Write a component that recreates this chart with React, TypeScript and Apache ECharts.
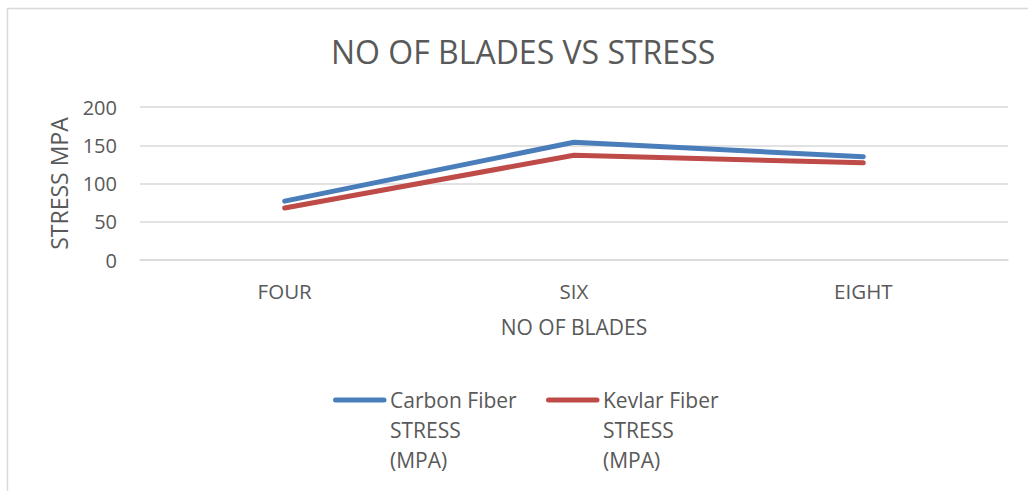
import React, { useEffect, useRef } from "react";
import * as echarts from "echarts";

const categories = ["FOUR", "SIX", "EIGHT"];
const carbonStress = [77, 154, 135];
const kevlarStress = [68, 137, 127];
const yTicks = [0, 50, 100, 150, 200];
const seriesNames = ["Carbon Fiber STRESS (MPA)", "Kevlar Fiber STRESS (MPA)"];
const legendLabels = ["Carbon Fiber\nSTRESS\n(MPA)", "Kevlar Fiber\nSTRESS\n(MPA)"];

const FONT = "'Open Sans', sans-serif";
const TXT = "#595959";
const GRID = "#d9d9d9";
const COLORS = ["#4a7ebb", "#be4b48"];
const LEGEND_X = [333, 546];
const LEGEND_Y = 400;

export default function App() {
  const ref = useRef<HTMLDivElement>(null);
  useEffect(() => {
    document.body.style.margin = "0";
    const chart = echarts.init(ref.current!, null, { renderer: "svg" });
    const legendGraphics: any[] = [];
    seriesNames.forEach((_, i) => {
      const x0 = LEGEND_X[i];
      legendGraphics.push({
        type: "line",
        shape: { x1: x0 + 2.5, y1: LEGEND_Y, x2: x0 + 51, y2: LEGEND_Y },
        style: { stroke: COLORS[i], lineWidth: 5, lineCap: "round" },
        silent: true,
      });
      legendGraphics.push({
        type: "text",
        x: x0 + 57,
        y: LEGEND_Y - 15,
        style: {
          text: legendLabels[i],
          fill: TXT,
          font: `21px ${FONT}`,
          lineHeight: 30,
          verticalAlign: "top",
          align: "left",
        },
        silent: true,
      });
    });
    chart.setOption({
      animation: false,
      textStyle: { fontFamily: FONT },
      title: {
        text: "NO OF BLADES VS STRESS",
        left: 326,
        top: 30,
        textStyle: { color: TXT, fontFamily: FONT, fontSize: 32, fontWeight: "normal" },
      },
      graphic: [
        {
          type: "rect",
          shape: { x: 7.5, y: 8.5, width: 1040, height: 520 },
          style: { fill: "none", stroke: GRID, lineWidth: 1.5 },
          silent: true,
        },
        ...legendGraphics,
      ],
      grid: { left: 140, right: 20, top: 107, bottom: 231 },
      xAxis: {
        type: "category",
        data: categories,
        boundaryGap: true,
        name: "NO OF BLADES",
        nameLocation: "middle",
        nameGap: 56,
        nameTextStyle: { color: TXT, fontFamily: FONT, fontSize: 21 },
        axisLine: { show: true, lineStyle: { color: GRID, width: 1.5 } },
        axisTick: { show: false },
        axisLabel: { color: TXT, fontFamily: FONT, fontSize: 20.5, margin: 20 },
      },
      yAxis: {
        type: "value",
        min: yTicks[0],
        max: yTicks[yTicks.length - 1],
        interval: 50,
        name: "STRESS MPA",
        nameLocation: "middle",
        nameGap: 70,
        nameTextStyle: { color: TXT, fontFamily: FONT, fontSize: 23 },
        axisLine: { show: false },
        axisTick: { show: false },
        axisLabel: { color: TXT, fontFamily: FONT, fontSize: 20, margin: 23 },
        splitLine: { lineStyle: { color: GRID, width: 1.5 } },
      },
      series: [
        {
          name: seriesNames[0],
          type: "line",
          data: carbonStress,
          symbol: "none",
          color: COLORS[0],
          lineStyle: { width: 5, color: COLORS[0], cap: "round", join: "round" },
        },
        {
          name: seriesNames[1],
          type: "line",
          data: kevlarStress,
          symbol: "none",
          color: COLORS[1],
          lineStyle: { width: 5, color: COLORS[1], cap: "round", join: "round" },
        },
      ],
    });
    return () => chart.dispose();
  }, []);
  return <div ref={ref} style={{ width: 1028, height: 491, background: "#fff" }} />;
}
